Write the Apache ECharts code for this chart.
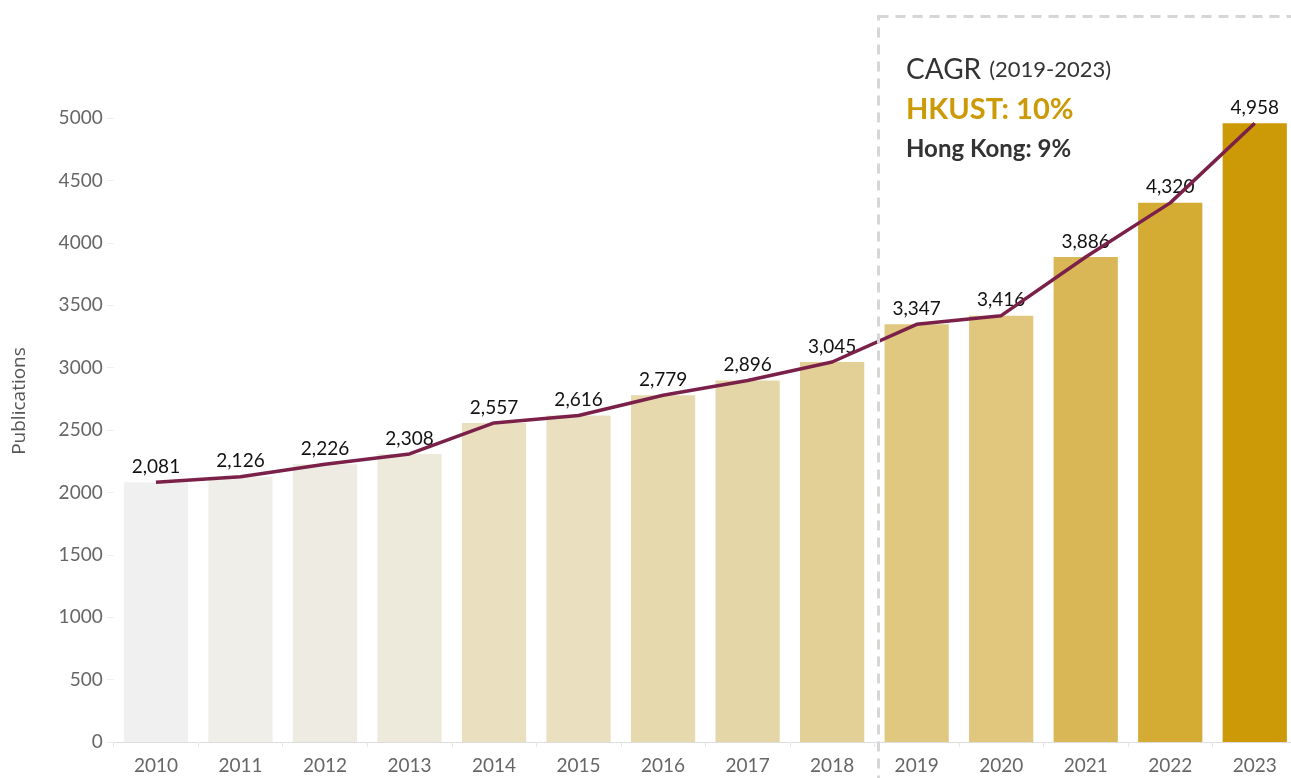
<!DOCTYPE html>
<html>
<head>
<meta charset="utf-8">
<title>HKUST Publications</title>
<script src="https://cdn.jsdelivr.net/npm/echarts@6/dist/echarts.min.js"></script>
<style>
  html, body { margin: 0; padding: 0; background: #fff; }
  #chart { width: 1291px; height: 778px; }
</style>
</head>
<body>
<div id="chart"></div>
<script>
  // data
  let years = ['2010', '2011', '2012', '2013', '2014', '2015', '2016', '2017', '2018', '2019', '2020', '2021', '2022', '2023'];
  let publications = [2081, 2126, 2226, 2308, 2557, 2616, 2779, 2896, 3045, 3347, 3416, 3886, 4320, 4958];
  let barColors = ['#f0f0f0', '#f0eee9', '#eeebe2', '#ede9db', '#eae0c0', '#eadfbf', '#e6d9ae', '#e5d6a7',
                   '#e3d097', '#e1c880', '#e1c77e', '#d9b757', '#d4ab33', '#cc9a06'];
  let yAxisName = 'Publications';
  let cagrTitle = 'CAGR';
  let cagrPeriod = '(2019-2023)';
  let cagrHkust = 'HKUST: 10%';
  let cagrHk = 'Hong Kong: 9%';

  let font = 'Lato, "Open Sans", sans-serif';
  let myChart = echarts.init(document.getElementById('chart'));

  let option = {
    animation: false,
    grid: {
      left: 113.7,
      right: -6,
      top: 118,
      bottom: 36,
      outerBoundsMode: 'none'
    },
    xAxis: {
      type: 'category',
      data: years,
      axisLine: {
        lineStyle: { color: '#d8d8d8', type: 'dotted', width: 1 }
      },
      axisTick: {
        show: true,
        length: 5,
        lineStyle: { color: '#e6e6e6' }
      },
      axisLabel: {
        color: '#666',
        fontSize: 19,
        fontFamily: font,
        margin: 14
      }
    },
    yAxis: {
      type: 'value',
      min: 0,
      max: 5000,
      interval: 500,
      splitLine: { show: false },
      axisLine: { show: false },
      axisTick: {
        show: true,
        length: 7,
        lineStyle: { color: '#eeeeee' }
      },
      axisLabel: {
        color: '#666',
        fontSize: 19,
        fontFamily: font,
        margin: 11,
        formatter: function (v) {
          return String(v);
        }
      }
    },
    series: [
      {
        type: 'bar',
        name: 'Publications',
        barWidth: '76%',
        data: publications.map(function (v, i) {
          return { value: v, itemStyle: { color: barColors[i] } };
        }),
        label: {
          show: true,
          position: 'top',
          distance: 6,
          color: '#111',
          fontSize: 19,
          fontFamily: font,
          formatter: function (p) {
            return p.value.toLocaleString('en-US');
          }
        },
        z: 2
      },
      {
        type: 'line',
        name: 'Trend',
        data: publications,
        symbol: 'none',
        lineStyle: { color: '#7b2149', width: 3.5 },
        z: 3
      }
    ],
    graphic: [
      {
        // y axis title, sits a little above the axis middle as in the original
        type: 'text',
        x: 20,
        y: 401,
        rotation: Math.PI / 2,
        style: {
          text: yAxisName,
          fontSize: 19,
          fontFamily: '"Open Sans", sans-serif',
          fill: '#555',
          align: 'center',
          verticalAlign: 'middle'
        }
      },
      {
        type: 'rect',
        left: 876,
        top: 14,
        shape: { width: 460, height: 800 },
        style: {
          fill: 'none',
          stroke: '#d6d6d6',
          lineWidth: 3,
          lineDash: [10, 7]
        },
        z: 10
      },
      {
        type: 'text',
        left: 906,
        top: 56,
        style: {
          text: '{a|' + cagrTitle + '}{b|' + cagrPeriod + '}',
          rich: {
            a: { fontSize: 28, fontFamily: font, fill: '#333', padding: [0, 8, 0, 0] },
            b: { fontSize: 22, fontFamily: font, fill: '#333' }
          }
        },
        z: 10
      },
      {
        type: 'text',
        left: 906,
        top: 95,
        style: {
          text: cagrHkust,
          fontSize: 29,
          fontWeight: 'bold',
          fontFamily: font,
          fill: '#cc9a06'
        },
        z: 10
      },
      {
        type: 'text',
        left: 906,
        top: 137,
        style: {
          text: cagrHk,
          fontSize: 24,
          fontWeight: 'bold',
          fontFamily: font,
          fill: '#333'
        },
        z: 10
      }
    ]
  };

  myChart.setOption(option, true);
</script>
</body>
</html>
